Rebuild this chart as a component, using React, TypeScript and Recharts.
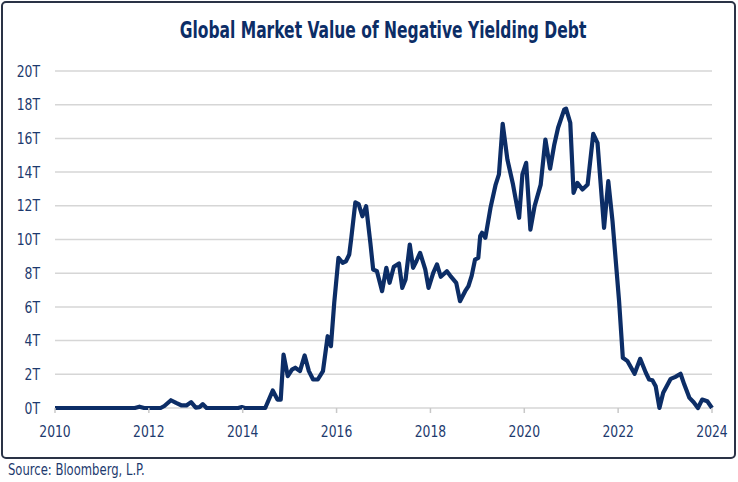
import React from 'react';
import { LineChart, Line, XAxis, YAxis, CartesianGrid } from 'recharts';

// decimal year of each reading
const years = [
  2010.0, 2011.7, 2011.8, 2011.9, 2012.25, 2012.33, 2012.47, 2012.58, 2012.7, 2012.8,
  2012.9, 2013.0, 2013.08, 2013.15, 2013.23, 2013.9, 2013.98, 2014.05, 2014.48, 2014.64,
  2014.74, 2014.81, 2014.87, 2014.96, 2015.05, 2015.12, 2015.22, 2015.32, 2015.41, 2015.5,
  2015.6, 2015.71, 2015.81, 2015.88, 2015.95, 2016.04, 2016.13, 2016.2, 2016.27, 2016.31,
  2016.4, 2016.47, 2016.55, 2016.63, 2016.72, 2016.78, 2016.86, 2016.97, 2017.06, 2017.13,
  2017.22, 2017.33, 2017.4, 2017.47, 2017.56, 2017.63, 2017.7, 2017.78, 2017.89, 2017.96,
  2018.06, 2018.14, 2018.22, 2018.35, 2018.42, 2018.55, 2018.63, 2018.74, 2018.81, 2018.88,
  2018.95, 2019.02, 2019.06, 2019.1, 2019.17, 2019.28, 2019.39, 2019.46, 2019.54, 2019.64,
  2019.76, 2019.89, 2019.96, 2020.04, 2020.13, 2020.22, 2020.35, 2020.45, 2020.55, 2020.64,
  2020.72, 2020.85, 2020.89, 2020.98, 2021.05, 2021.13, 2021.24, 2021.35, 2021.47, 2021.56,
  2021.7, 2021.79, 2021.88, 2022.02, 2022.1, 2022.2, 2022.35, 2022.47, 2022.59, 2022.66,
  2022.73, 2022.8, 2022.88, 2022.96, 2023.12, 2023.22, 2023.33, 2023.41, 2023.52, 2023.61,
  2023.7, 2023.79, 2023.9, 2024.0,
];

// market value, trillions USD
const values = [
  0, 0, 0.08, 0, 0, 0.12, 0.46, 0.3, 0.15, 0.15,
  0.35, 0.02, 0.05, 0.23, 0, 0, 0.05, 0, 0, 1.04,
  0.5, 0.5, 3.17, 1.89, 2.28, 2.39, 2.19, 3.12, 2.19, 1.69,
  1.69, 2.19, 4.26, 3.67, 6.24, 8.91, 8.62, 8.71, 9.11, 10.0,
  12.2, 12.1, 11.38, 11.98, 9.8, 8.22, 8.12, 6.93, 8.32, 7.43,
  8.38, 8.58, 7.13, 7.63, 9.7, 8.32, 8.71, 9.21, 8.22, 7.13,
  8.02, 8.52, 7.79, 8.12, 7.86, 7.43, 6.34, 6.93, 7.23, 7.86,
  8.81, 8.91, 10.2, 10.4, 10.1, 11.88, 13.26, 13.86, 16.87, 14.75,
  13.26, 11.29, 13.86, 14.55, 10.59, 11.98, 13.26, 15.93, 14.21, 15.64,
  16.63, 17.71, 17.77, 16.93, 12.77, 13.36, 12.97, 13.26, 16.27, 15.74,
  10.69, 13.46, 11.09, 6.34, 2.98, 2.78, 2.03, 2.92, 2.09, 1.69,
  1.65, 1.29, 0, 0.9, 1.73, 1.85, 2.03, 1.39, 0.6, 0.34,
  0, 0.5, 0.4, 0,
];

const xTicks = [2010, 2012, 2014, 2016, 2018, 2020, 2022, 2024];
const yTicks = [0, 2, 4, 6, 8, 10, 12, 14, 16, 18, 20];

const data = years.map((x, i) => ({ x, v: values[i] }));

const NAVY = '#0c2d66';
const TEXT = '#1d3a6e';
const FONT = "'DejaVu Sans Condensed', 'Liberation Sans Narrow', sans-serif";

// condensed-looking tick labels (squeeze the glyphs horizontally)
const XTick = ({ x, y, payload }: any) => (
  <text transform={`translate(${x},${y}) scale(0.86,1)`} textAnchor="middle" dy="0.71em" fill={TEXT} fontSize={16} fontFamily={FONT}>
    {payload.value}
  </text>
);

const YTick = ({ x, y, payload }: any) => (
  <text transform={`translate(${x},${y}) scale(0.86,1)`} textAnchor="end" dy="0.355em" fill={TEXT} fontSize={16} fontFamily={FONT}>
    {`${payload.value}T`}
  </text>
);

export default function App() {
  return (
    <div style={{ position: 'fixed', left: 0, top: 0, width: 738, height: 482, background: '#fff', fontFamily: FONT }}>
      <div
        style={{
          position: 'absolute', left: 1, top: 1, width: 731, height: 454,
          border: '2px solid #2a3346', borderRadius: 5,
        }}
      />
      <div
        style={{
          position: 'absolute', left: 0, top: 17, width: 766, textAlign: 'center',
          fontSize: 23, fontWeight: 'bold', color: NAVY, fontFamily: FONT,
          transform: 'scaleX(0.75)', transformOrigin: '383px 0',
        }}
      >
        Global Market Value of Negative Yielding Debt
      </div>
      <div style={{ position: 'absolute', left: 0, top: 0 }}>
        <LineChart width={738} height={482} data={data} margin={{ top: 71, right: 26, bottom: 44, left: 0 }}>
          <CartesianGrid vertical={false} stroke="#d6d6d6" strokeWidth={1.5} />
          <XAxis
            dataKey="x"
            type="number"
            domain={[2010, 2024]}
            ticks={xTicks}
            height={30}
            axisLine={false}
            tickLine={{ stroke: '#c8c8c8', strokeWidth: 1.5 }}
            tickSize={5}
            tickMargin={13}
            tick={<XTick />}
          />
          <YAxis
            type="number"
            domain={[0, 20]}
            ticks={yTicks}
            width={55}
            axisLine={false}
            tickLine={false}
            tickMargin={9}
            tick={<YTick />}
          />
          <Line
            type="linear"
            dataKey="v"
            stroke={NAVY}
            strokeWidth={4.2}
            strokeLinejoin="round"
            dot={false}
            isAnimationActive={false}
          />
        </LineChart>
      </div>
      <div
        style={{
          position: 'absolute', left: 8, top: 461, fontSize: 15, color: TEXT, fontFamily: FONT,
          transform: 'scaleX(0.86)', transformOrigin: '0 0', whiteSpace: 'nowrap',
        }}
      >
        Source: Bloomberg, L.P.
      </div>
    </div>
  );
}
